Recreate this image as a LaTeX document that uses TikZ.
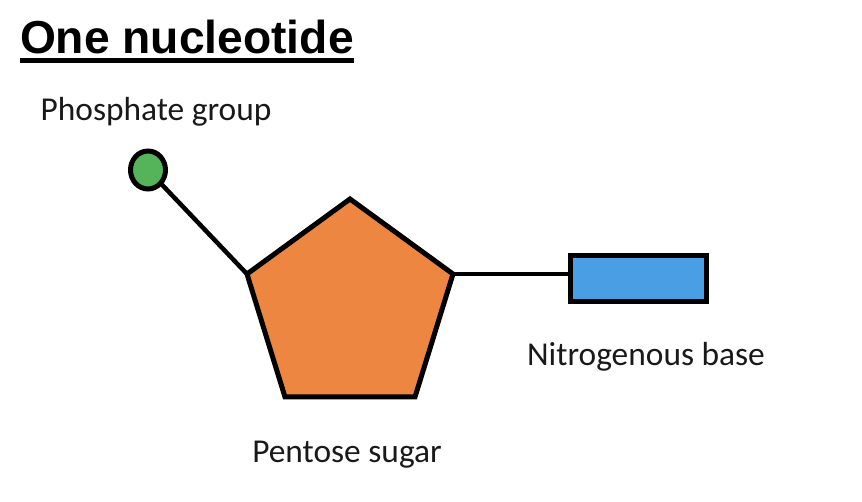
\documentclass[tikz,border=0pt]{standalone}
\usepackage{fontspec}
\setmainfont{Carlito}
\newfontfamily\titlefont{Liberation Sans}
\usepackage{tikz}
\usetikzlibrary{shapes,calc,positioning}
\definecolor{sugarorange}{HTML}{ED8640}
\definecolor{baseblue}{HTML}{4A9FE4}
\definecolor{phosgreen}{HTML}{55B35A}

\begin{document}
\begin{tikzpicture}[
	x=1pt, y=-1pt,
	every node/.style = {inner sep=0pt, outer sep=0pt},
	part/.style = {draw=black, line width=5pt, line join=miter},
	bond/.style = {draw=black, line width=4.5pt},
	caption/.style = {font=\fontsize{33.4}{38}\selectfont, text=black!90}
]
\useasboundingbox (0,0) rectangle (862,502);
\node[anchor=base west, font=\titlefont\bfseries\fontsize{46.2}{52}\selectfont] (title) at (20,54) {One nucleotide};
\draw[line width=5pt] (title.west |- 0,60.5) -- (title.east |- 0,60.5);
\node[caption, anchor=base] (phosphatelabel) at (156,121) {Phosphate group};
\node[caption, anchor=base] (sugarlabel) at (347,462) {Pentose sugar};
\node[caption, anchor=base] (baselabel) at (646,366) {Nitrogenous base};
\coordinate (p1) at (350,199);
\coordinate (p2) at (453,274);
\coordinate (p3) at (415,397);
\coordinate (p4) at (285,397);
\coordinate (p5) at (247,274);
\node[part, ellipse, fill=phosgreen, minimum width=35pt, minimum height=38pt] (phosphate) at (148,170) {};
\node[part, rectangle, fill=baseblue, minimum width=136pt, minimum height=46pt] (base) at (638.5,279) {};
\draw[bond] (phosphate) -- (p5);
\draw[bond] (p2) -- (base.west |- p2);
\draw[part, fill=sugarorange] (p1) -- (p2) -- (p3) -- (p4) -- (p5) -- cycle;
\end{tikzpicture}
\end{document}
